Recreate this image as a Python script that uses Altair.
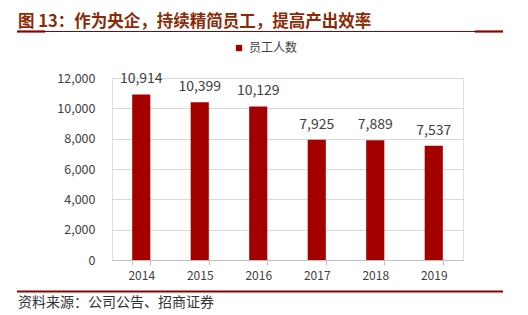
import altair as alt
import pandas as pd

years = ["2014", "2015", "2016", "2017", "2018", "2019"]
employees = [10914, 10399, 10129, 7925, 7889, 7537]
series_name = "员工人数"
title_text = "图 13：作为央企，持续精简员工，提高产出效率"
source_text = "资料来源：公司公告、招商证券"

df = pd.DataFrame({"year": years, "value": employees, "series": [series_name] * len(years)})

FONT = "Noto Sans CJK SC"
BAR = "#A50000"
TXT = "#404040"
W, H = 351, 182

x = alt.X("year:N", title=None, sort=years,
          scale=alt.Scale(paddingInner=0.69, paddingOuter=0.345),
          axis=alt.Axis(labelAngle=0, labelFontSize=12, labelColor=TXT, labelFont=FONT,
                        domainColor="#BFBFBF", tickColor="#BFBFBF", tickSize=5,
                        tickBand="extent", labelPadding=5, grid=False))
y = alt.Y("value:Q", title=None,
          scale=alt.Scale(domain=[0, 12000], nice=False),
          axis=alt.Axis(values=list(range(0, 12001, 2000)), format=",.0f",
                        labelFontSize=12.5, labelColor=TXT, labelFont=FONT,
                        labelPadding=17, domain=False, ticks=False, labelOverlap=False,
                        gridColor="#D9D9D9"))

base = alt.Chart(df)
bars = base.mark_bar(color=BAR).encode(
    x=x, y=y,
    color=alt.Color("series:N", scale=alt.Scale(range=[BAR]),
                    legend=alt.Legend(title=None, orient="none", legendX=121, legendY=-36,
                                      symbolType="square", symbolSize=40, symbolStrokeWidth=0,
                                      labelFont=FONT, labelFontSize=12, labelColor=TXT,
                                      padding=0, labelOffset=4)))
labels = base.mark_text(dy=-8, fontSize=14, font=FONT, color=TXT, baseline="bottom").encode(
    x=x, y=y, text=alt.Text("value:Q", format=",.0f"))

title = alt.Chart(pd.DataFrame({"t": [title_text]})).mark_text(
    align="left", baseline="alphabetic", fontSize=16.5, fontWeight="bold", font=FONT, color="#8B2A05"
).encode(text="t:N", x=alt.value(-94), y=alt.value(-51))

source = alt.Chart(pd.DataFrame({"t": [source_text]})).mark_text(
    align="left", baseline="middle", fontSize=14, font=FONT, color="#333333"
).encode(text="t:N", x=alt.value(-94), y=alt.value(225))

def hline(x1, x2, yv, w):
    return alt.Chart(pd.DataFrame({"a": [0]})).mark_rule(color="#8B0000", strokeWidth=w).encode(
        x=alt.value(x1), x2=alt.value(x2), y=alt.value(yv))

lines = (hline(-95, 391, -46.5, 1) + hline(-95, -67, -46.5, 2.2) + hline(363, 391, -46.5, 2.2)
         + hline(-95, 391, 213.5, 2.2))

chart = alt.layer(bars, labels, title, source, lines).properties(
    width=W, height=H,
    autosize=alt.AutoSizeParams(type="none"),
    padding={"left": 112, "top": 78, "right": 65, "bottom": 55},
).configure_view(stroke=None).configure(background="white")

chart.save("out.html", embed_options={"renderer": "svg", "actions": False})
